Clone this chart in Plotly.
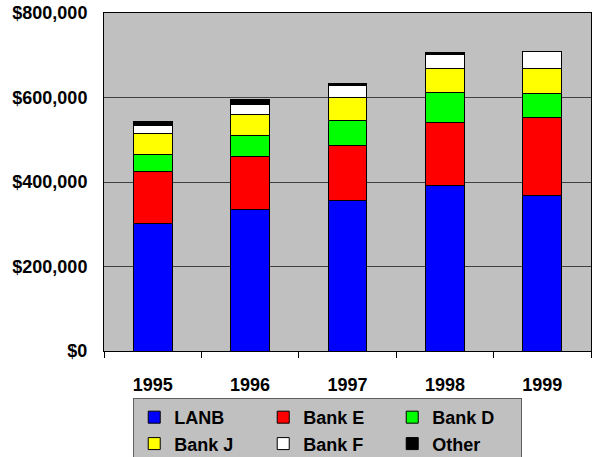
import plotly.graph_objects as go

years = ["1995", "1996", "1997", "1998", "1999"]
lanb = [302600, 334000, 355500, 391000, 368000]
bank_e = [121400, 126500, 130500, 150000, 183600]
bank_d = [40600, 50500, 59000, 70000, 56900]
bank_j = [49400, 49000, 54000, 58000, 59400]
bank_f = [20000, 23800, 29000, 32700, 40100]
other = [9500, 11200, 4900, 3900, 0]

series = [
    ("LANB", lanb, "#0000FF"),
    ("Bank E", bank_e, "#FF0000"),
    ("Bank D", bank_d, "#00FF00"),
    ("Bank J", bank_j, "#FFFF00"),
    ("Bank F", bank_f, "#FFFFFF"),
    ("Other", other, "#000000"),
]

FONT = "Liberation Sans, Arial, sans-serif"

fig = go.Figure()
for name, vals, col in series:
    fig.add_trace(go.Bar(
        x=years, y=vals, name=name,
        marker=dict(color=col, line=dict(color="#000000", width=1)),
        width=0.4,
    ))

fig.update_layout(
    barmode="stack",
    width=592, height=457,
    margin=dict(l=104, r=1, t=13, b=106, autoexpand=False),
    paper_bgcolor="#FFFFFF",
    plot_bgcolor="#C0C0C0",
    font=dict(family=FONT, size=18, color="#000000"),
    showlegend=True,
    legend=dict(
        orientation="h",
        x=0.06, xanchor="left",
        y=-0.139, yanchor="top",
        bgcolor="#C0C0C0",
        bordercolor="#606060",
        borderwidth=1,
        font=dict(family=FONT, size=18, color="#000000", weight="bold"),
        entrywidth=84, entrywidthmode="pixels",
        traceorder="normal",
        itemclick=False,
    ),
    xaxis=dict(
        type="category",
        showline=True, linecolor="#000000", linewidth=1, mirror=True,
        ticks="outside", tickson="boundaries", ticklen=6, tickcolor="#000000",
        tickfont=dict(family=FONT, size=18, weight="bold"),
        ticklabelstandoff=17,
        showgrid=False,
    ),
    yaxis=dict(
        range=[0, 800000], dtick=200000,
        tickprefix="$", tickformat=",",
        showline=True, linecolor="#000000", linewidth=1, mirror=True,
        ticks="",
        tickfont=dict(family=FONT, size=18, weight="bold"),
        ticklabelstandoff=12,
        showgrid=True, gridcolor="#404040", gridwidth=1,
        zeroline=False,
    ),
)

fig.write_html(
    "out.html",
    config={"displayModeBar": False},
    post_script="document.body.style.margin='0';document.body.style.overflow='hidden';",
)
